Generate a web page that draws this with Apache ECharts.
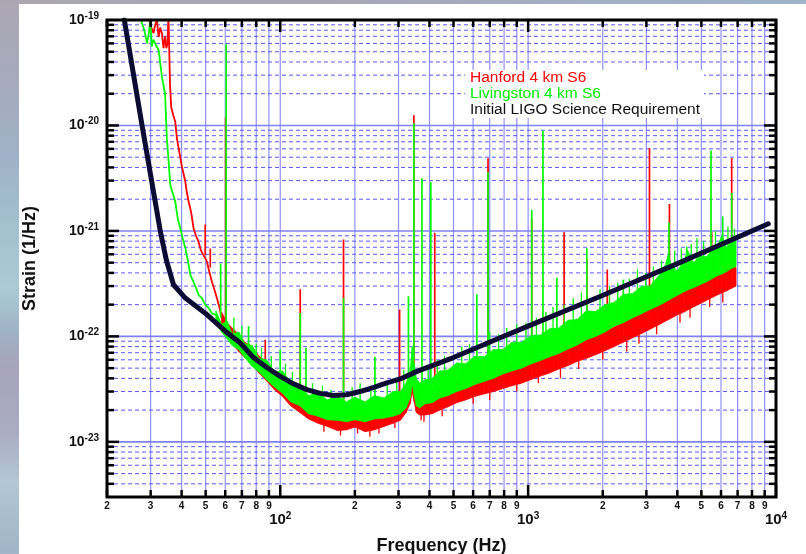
<!DOCTYPE html>
<html>
<head>
<meta charset="utf-8">
<script src="https://cdn.jsdelivr.net/npm/echarts@6.0.0/dist/echarts.min.js"></script>
<style>
html,body{margin:0;padding:0;width:806px;height:554px;overflow:hidden;}
body{background:linear-gradient(180deg,#aca7b3 0%,#a7a9bb 12%,#9fb1c6 28%,#a3c2d0 42%,#a9cbd4 52%,#9fb2c6 60%,#a7a3bb 66%,#a9acc4 78%,#b3c6d4 87%,#a8bccc 94%,#a2b4c8 100%);}
#topstrip{position:absolute;left:0;top:0;width:806px;height:4px;background:linear-gradient(90deg,#aba6b2,#a9a7b5 40%,#a3aec2 70%,#9fb5c8 100%);}
#bg{position:absolute;left:19px;top:4px;right:0;bottom:0;background:#fff;}
#chart{position:absolute;left:0;top:0;width:806px;height:554px;}
</style>
</head>
<body>
<div id="topstrip"></div>
<div id="bg"></div>
<div id="chart"></div>
<script>
// ---------- axis ticks ----------
const xMinorTicks = [20,30,40,50,60,70,80,90,200,300,400,500,600,700,800,900,2000,3000,4000,5000,6000,7000,8000,9000];
const xMinorLabels = ['2','3','4','5','6','7','8','9','2','3','4','5','6','7','8','9','2','3','4','5','6','7','8','9'];
const xMajorTicks = [100,1000,10000];
const yMajorTicks = [1e-23,1e-22,1e-21,1e-20];
const yMinorTicks = [4e-24,5e-24,6e-24,7e-24,8e-24,9e-24,
  2e-23,3e-23,4e-23,5e-23,6e-23,7e-23,8e-23,9e-23,
  2e-22,3e-22,4e-22,5e-22,6e-22,7e-22,8e-22,9e-22,
  2e-21,3e-21,4e-21,5e-21,6e-21,7e-21,8e-21,9e-21,
  2e-20,3e-20,4e-20,5e-20,6e-20,7e-20,8e-20,9e-20];

// ---------- Initial LIGO Science Requirement ----------
const srdF = [23.5,27.7,32.8,34.7,37.1,41.4,49.8,60,69,78,88,100,113,128,145,164,185,210,240,269,305,356,500,771,1000,1950,4000,9310];
const srdV = [1e-19,1e-20,1e-21,5.3e-22,3.09e-22,2.31e-22,1.66e-22,1.12e-22,8.66e-23,6.3e-23,5.1e-23,4.18e-23,3.55e-23,3.13e-23,2.88e-23,2.75e-23,2.8e-23,3.0e-23,3.3e-23,3.62e-23,3.95e-23,4.66e-23,6.3e-23,9.7e-23,1.25e-22,2.39e-22,4.9e-22,1.17e-21];

// ---------- Livingston 4 km S6 ----------
const gLowF = [27.4,28.3,29.0,29.5,29.9,30.3,30.8,31.5,32.3,33.3,34.3,34.7,34.9,35.3,36.0,36.8,37.7,38.6,39.5,40.4,41.4,42.4,43.4,44.6,45.7,46.8,48.3,49.8,51.5,53.0,55.0];
const gLowV = [1.0e-19,8.0e-20,6.0e-20,7.5e-20,1.0e-19,5.6e-20,6.5e-20,5.8e-20,5.2e-20,2.9e-20,2.0e-20,1.0e-20,7.3e-21,5.25e-21,2.73e-21,2.3e-21,1.9e-21,1.3e-21,1.06e-21,8.5e-22,6.9e-22,5.2e-22,3.84e-22,3.3e-22,2.9e-22,2.48e-22,2.3e-22,2.0e-22,1.85e-22,1.65e-22,1.6e-22];
const gF = [55,58,61,64,68,72,77,82,88,95,102,110,120,130,142,155,170,185,200,220,240,262,285,305,322,334,341,347,354,365,385,410,440,475,515,560,610,665,725,790,860,940,1030,1120,1220,1330,1450,1580,1720,1870,2040,2220,2420,2640,2880,3100,3350,3550,3680,3800,4000,4250,4400,4650,4950,5250,5550,5850,6050,6300,6600,6900];
const gU = [1.75e-22,1.3e-22,1.4e-22,1.05e-22,1.1e-22,8.5e-23,8.2e-23,6.2e-23,6.0e-23,4.6e-23,
  4.7e-23,3.7e-23,3.5e-23,2.75e-23,2.9e-23,2.5e-23,2.7e-23,2.4e-23,2.65e-23,2.4e-23,
  2.75e-23,2.6e-23,3.0e-23,3.0e-23,3.6e-23,4.6e-23,8.0e-23,5.5e-23,4.0e-23,3.6e-23,
  3.9e-23,4.0e-23,4.7e-23,4.8e-23,5.6e-23,5.5e-23,6.5e-23,6.4e-23,7.5e-23,7.5e-23,
  8.8e-23,8.8e-23,1.02e-22,1.03e-22,1.18e-22,1.2e-22,1.42e-22,1.45e-22,1.75e-22,1.72e-22,
  2.0e-22,2.1e-22,2.5e-22,2.55e-22,3.0e-22,3.0e-22,3.7e-22,4.5e-22,6.0e-22,4.5e-22,
  4.2e-22,5.2e-22,6.5e-22,5.0e-22,5.8e-22,5.7e-22,6.8e-22,7.5e-22,9.0e-22,7.0e-22,
  7.8e-22,8.2e-22];
const gL = [1.45e-22,1.1e-22,9.5e-23,8.2e-23,7.5e-23,6.3e-23,5.2e-23,4.6e-23,3.9e-23,3.3e-23,
  2.9e-23,2.4e-23,2.2e-23,1.85e-23,1.75e-23,1.62e-23,1.6e-23,1.55e-23,1.62e-23,1.55e-23,
  1.65e-23,1.68e-23,1.75e-23,1.85e-23,2.1e-23,2.6e-23,3.5e-23,2.8e-23,2.2e-23,2.1e-23,
  2.3e-23,2.35e-23,2.6e-23,2.75e-23,3.0e-23,3.2e-23,3.5e-23,3.75e-23,4.0e-23,4.4e-23,
  4.7e-23,5.0e-23,5.5e-23,5.9e-23,6.4e-23,6.9e-23,7.6e-23,8.3e-23,9.3e-23,1.0e-22,
  1.1e-22,1.25e-22,1.35e-22,1.5e-22,1.65e-22,1.8e-22,1.95e-22,2.1e-22,2.2e-22,2.3e-22,
  2.45e-22,2.65e-22,2.75e-22,2.9e-22,3.1e-22,3.3e-22,3.55e-22,3.8e-22,3.9e-22,4.1e-22,
  4.4e-22,4.6e-22];
const gSpikeF = [57.5,60.5,74.5,100,120.4,127,180,241,329,346,373,405,621,689,1034,1148,1306,1725,2421,3700,4365,5470,6095,6626];
const gSpikeBase = [1.5e-22,1.2e-22,7e-23,4e-23,3e-23,3e-23,2.5e-23,2.6e-23,3e-23,6e-23,3.6e-23,4e-23,6.5e-23,6.5e-23,1e-22,1e-22,1.2e-22,1.7e-22,2.4e-22,5e-22,5e-22,6.5e-22,7e-22,7.5e-22];
const gSpikeTop = [4.9e-22,5.9e-20,1.25e-22,7.5e-23,1.67e-22,7.8e-23,2.3e-22,6.4e-23,2.4e-22,1.05e-20,3.15e-21,2.9e-21,2.5e-22,3.6e-21,1.58e-21,8.9e-21,3.6e-22,6.9e-22,3.45e-22,1.2e-21,7.1e-22,5.8e-21,1.37e-21,2.3e-21];
// small noise hairs on the Livingston band
const gHairF = [65,70,80,84,92,105,112,135,148,160,195,210,232,270,295,315,395,430,460,540,580,700,760,820,900,980,1080,1180,1260,1400,1520,1640,1950,2130,2300,2560,2760,2980,3200,3450,3900,4150,4550,4800,5100,5700,6400,6800];
const gHairBase = [9e-23,8e-23,6e-23,5e-23,4.5e-23,3.5e-23,3e-23,2.5e-23,2.3e-23,2.2e-23,2.1e-23,2.1e-23,2.1e-23,2.2e-23,2.5e-23,2.6e-23,3e-23,3.3e-23,3.6e-23,4.2e-23,4.6e-23,5.5e-23,6e-23,6.5e-23,7e-23,7.5e-23,8.5e-23,9e-23,1e-22,1.1e-22,1.2e-22,1.3e-22,1.5e-22,1.7e-22,1.8e-22,2.0e-22,2.3e-22,2.4e-22,2.6e-22,3e-22,3.3e-22,3.5e-22,3.8e-22,4e-22,4.3e-22,5e-22,5.5e-22,6e-22];
const gHairTop = [1.5e-22,1.25e-22,8.5e-23,7.8e-23,6.5e-23,5.5e-23,4.6e-23,3.6e-23,3.4e-23,3.1e-23,3.3e-23,3.6e-23,3.2e-23,3.6e-23,4.0e-23,4.8e-23,5.2e-23,6.0e-23,6.5e-23,8e-23,8.5e-23,1.1e-22,1.05e-22,1.2e-22,1.3e-22,1.35e-22,1.5e-22,1.7e-22,1.9e-22,2.0e-22,2.3e-22,2.6e-22,2.8e-22,3.0e-22,3.2e-22,3.5e-22,4.3e-22,4.0e-22,4.6e-22,5.2e-22,6.5e-22,6.8e-22,7.5e-22,8.5e-22,8.0e-22,1.0e-21,1.1e-21,1.05e-21];

// ---------- Hanford 4 km S6 ----------
const rLowF = [29.6,30.2,30.8,31.3,31.8,32.3,32.8,33.3,33.8,34.3,34.7,35.1,35.4,35.9,36.3,37.0,37.7,38.3,38.9,39.5,40.0,40.7,41.4,42.0,42.7,43.7,44.7,45.7,46.8,47.9,49.0,50.5,51.3,53.0,54.2,55.5,56.8,58.0];
const rLowV = [1.0e-19,8.5e-20,7.5e-20,9.0e-20,1.0e-19,6.9e-20,8.5e-20,7.5e-20,5.4e-20,7.0e-20,5.4e-20,6.0e-20,1.1e-19,2.5e-20,1.5e-20,1.25e-20,1.09e-20,7.5e-21,6.1e-21,5.0e-21,4.2e-21,3.5e-21,2.94e-21,2.3e-21,1.9e-21,1.5e-21,1.06e-21,9.0e-22,7.9e-22,6.5e-22,5.9e-22,5.2e-22,4.45e-22,3.3e-22,2.8e-22,2.31e-22,1.9e-22,1.5e-22];
const rF = [58,61,64,68,72,77,82,88,95,102,110,120,130,142,155,170,185,200,220,240,262,285,305,322,334,341,347,354,365,385,410,440,475,515,560,610,665,725,790,860,940,1030,1120,1220,1330,1450,1580,1650,1720,1870,2040,2220,2420,2640,2880,3100,3350,3550,3700,3800,4000,4250,4650,4950,5250,5550,5850,6300,6600,6900];
const rU = [1.7e-22,1.35e-22,1.2e-22,1.05e-22,8.8e-23,8.0e-23,6.5e-23,5.8e-23,4.6e-23,
  4.2e-23,3.4e-23,3.0e-23,2.6e-23,2.5e-23,2.3e-23,2.35e-23,2.2e-23,2.3e-23,2.2e-23,
  2.35e-23,2.3e-23,2.55e-23,2.7e-23,3.2e-23,4.0e-23,6.5e-23,4.5e-23,3.2e-23,2.9e-23,
  3.0e-23,3.1e-23,3.4e-23,3.5e-23,3.9e-23,3.9e-23,4.3e-23,4.4e-23,4.8e-23,4.9e-23,
  5.5e-23,5.6e-23,6.2e-23,6.4e-23,7.2e-23,7.4e-23,8.3e-23,8.6e-23,1.1e-22,9.5e-23,
  1.0e-22,1.12e-22,1.22e-22,1.38e-22,1.5e-22,1.72e-22,1.8e-22,2.1e-22,2.3e-22,2.9e-22,
  2.5e-22,2.6e-22,2.95e-22,3.1e-22,3.5e-22,3.5e-22,3.9e-22,4.1e-22,4.3e-22,4.6e-22,
  4.5e-22];
const rL = [1.3e-22,1.0e-22,8.5e-23,7.2e-23,6.3e-23,5.4e-23,4.5e-23,3.8e-23,3.1e-23,
  2.7e-23,2.2e-23,1.9e-23,1.65e-23,1.5e-23,1.4e-23,1.28e-23,1.3e-23,1.38e-23,1.25e-23,
  1.3e-23,1.4e-23,1.5e-23,1.6e-23,1.9e-23,2.3e-23,3.0e-23,2.4e-23,1.9e-23,1.8e-23,
  1.8e-23,1.85e-23,2.0e-23,2.15e-23,2.35e-23,2.5e-23,2.7e-23,2.85e-23,3.0e-23,3.2e-23,
  3.4e-23,3.6e-23,3.9e-23,4.2e-23,4.5e-23,4.9e-23,5.3e-23,5.8e-23,6.0e-23,6.2e-23,
  6.7e-23,7.3e-23,8.0e-23,8.8e-23,9.7e-23,1.07e-22,1.17e-22,1.28e-22,1.38e-22,1.45e-22,
  1.5e-22,1.6e-22,1.7e-22,1.9e-22,2.05e-22,2.2e-22,2.35e-22,2.5e-22,2.7e-22,2.85e-22,
  3.0e-22];
const rSpikeF = [49.8,52.2,60.2,87,120.4,180,303,346,420,689,1034,1397,1725,2086,3087,3716,5500,6626];
const rSpikeBase = [5.9e-22,4.5e-22,1.2e-22,5e-23,3e-23,2.2e-23,2.7e-23,5e-23,3e-23,4.4e-23,6e-23,8e-23,9e-23,1.1e-22,1.8e-22,2.6e-22,3.8e-22,4.5e-22];
const rSpikeTop = [1.15e-21,6.8e-22,1.2e-20,9.3e-23,2.8e-22,8.3e-22,1.8e-22,1.25e-20,9.6e-22,4.9e-21,1.3e-21,9.7e-22,5.5e-22,4.3e-22,6.1e-21,1.8e-21,9.8e-22,4.9e-21];
// small downward noise dips on the Hanford band
const rHairF = [150,175,205,230,250,290,370,380,450,600,700,900,1100,1350,1600,2000,2500,2800,3300,4100,4500,5400,6100];
const rHairBase = [1.6e-23,1.5e-23,1.5e-23,1.5e-23,1.6e-23,1.7e-23,2e-23,2e-23,2.2e-23,2.9e-23,3.1e-23,3.7e-23,4.3e-23,5e-23,6e-23,7.3e-23,9e-23,1.05e-22,1.3e-22,1.7e-22,1.9e-22,2.3e-22,2.6e-22];
const rHairBottom = [1.25e-23,1.15e-23,1.2e-23,1.12e-23,1.2e-23,1.35e-23,1.6e-23,1.55e-23,1.75e-23,2.3e-23,2.5e-23,3.0e-23,3.6e-23,4.0e-23,4.9e-23,6.0e-23,7.2e-23,8.5e-23,1.05e-22,1.35e-22,1.5e-22,1.9e-22,2.1e-22];

// ---------- styling ----------
const FF = '"Liberation Sans", Arial, sans-serif';
// ECharts rounds log-axis values to 20 decimals, so the strain axis works in units of 1e-24.
const UNIT_EXP = 24;
const su = v => v * Math.pow(10, UNIT_EXP);
const X_MIN = 20, X_MAX = 10000, Y_MIN = su(3e-24), Y_MAX = su(1e-19);
const RED = '#ff0000', GREEN = '#00ff00', NAVY = '#0b0b33';

function zip2(a, b) { return a.map((v, i) => [v, su(b[i])]); }
function zip3(a, b, c) { return a.map((v, i) => [v, su(b[i]), su(c[i])]); }

function bandSeries(name, F, U, L, color, z) {
  const rows = zip3(F, U, L);
  return {
    type: 'custom', name: name, z: z, coordinateSystem: 'cartesian2d', clip: true, silent: true,
    encode: { x: 0, y: [1, 2] }, data: rows,
    renderItem: function (params, api) {
      const i = params.dataIndex;
      if (i >= rows.length - 1) return null;
      const a = api.coord([rows[i][0], rows[i][1]]);
      const b = api.coord([rows[i + 1][0], rows[i + 1][1]]);
      const c = api.coord([rows[i + 1][0], rows[i + 1][2]]);
      const d = api.coord([rows[i][0], rows[i][2]]);
      return { type: 'polygon', shape: { points: [a, b, c, d] }, style: { fill: color, stroke: color, lineWidth: 0.8 } };
    }
  };
}
function spikeSeries(F, B, T, color, z, w) {
  return {
    type: 'custom', z: z, coordinateSystem: 'cartesian2d', clip: true, silent: true,
    encode: { x: 0, y: [1, 2] }, data: zip3(F, B, T),
    renderItem: function (params, api) {
      const p0 = api.coord([api.value(0), api.value(1)]);
      const p1 = api.coord([api.value(0), api.value(2)]);
      return { type: 'line', shape: { x1: p0[0], y1: p0[1], x2: p1[0], y2: p1[1] }, style: { stroke: color, lineWidth: w } };
    }
  };
}
function lowLine(F, V, color, z) {
  return { type: 'line', z: z, data: zip2(F, V), showSymbol: false, symbol: 'none', silent: true,
    lineStyle: { color: color, width: 1.8 }, clip: true };
}
function vGrid(ticks, color, width) {
  return {
    type: 'custom', z: 1, silent: true, clip: false, encode: { x: 0, y: 1 },
    data: ticks.map(f => [f, Y_MIN]),
    renderItem: function (params, api) {
      const p0 = api.coord([api.value(0), Y_MIN]), p1 = api.coord([api.value(0), Y_MAX]);
      return { type: 'line', shape: { x1: p0[0], y1: p0[1], x2: p1[0], y2: p1[1] }, style: { stroke: color, lineWidth: width } };
    }
  };
}
function hGrid(ticks, color, width, dash) {
  return {
    type: 'custom', z: 1, silent: true, clip: false, encode: { x: 0, y: 1 },
    data: ticks.map(v => [X_MIN, su(v)]),
    renderItem: function (params, api) {
      const p0 = api.coord([X_MIN, api.value(1)]), p1 = api.coord([X_MAX, api.value(1)]);
      return { type: 'line', shape: { x1: p0[0], y1: p0[1], x2: p1[0], y2: p1[1] }, style: { stroke: color, lineWidth: width, lineDash: dash || null } };
    }
  };
}
function xTicks(ticks, len, labels) {
  return {
    type: 'custom', z: 8, silent: true, clip: false, encode: { x: 0, y: 1 },
    data: ticks.map(f => [f, Y_MIN]),
    renderItem: function (params, api) {
      const f = api.value(0);
      const pb = api.coord([f, Y_MIN]), pt = api.coord([f, Y_MAX]);
      const ch = [
        { type: 'line', shape: { x1: pb[0], y1: pb[1], x2: pb[0], y2: pb[1] - len }, style: { stroke: '#000', lineWidth: 2.5 } },
        { type: 'line', shape: { x1: pt[0], y1: pt[1], x2: pt[0], y2: pt[1] + len }, style: { stroke: '#000', lineWidth: 2.5 } }
      ];
      if (labels) {
        ch.push({ type: 'text', x: pb[0], y: pb[1] + 9, style: { text: labels[params.dataIndex], font: 'bold 10px ' + FF, fill: '#111', align: 'center', verticalAlign: 'middle', textAlign: 'center', textVerticalAlign: 'middle' } });
      }
      return { type: 'group', children: ch };
    }
  };
}
function yTicks(ticks, len) {
  return {
    type: 'custom', z: 8, silent: true, clip: false, encode: { x: 0, y: 1 },
    data: ticks.map(v => [X_MIN, su(v)]),
    renderItem: function (params, api) {
      const v = api.value(1);
      const pl = api.coord([X_MIN, v]), pr = api.coord([X_MAX, v]);
      return { type: 'group', children: [
        { type: 'line', shape: { x1: pl[0], y1: pl[1], x2: pl[0] + len, y2: pl[1] }, style: { stroke: '#000', lineWidth: 2.5 } },
        { type: 'line', shape: { x1: pr[0], y1: pr[1], x2: pr[0] - len, y2: pr[1] }, style: { stroke: '#000', lineWidth: 2.5 } }
      ] };
    }
  };
}
function powLabelFn(offset) {
  return function (v) {
    const l = Math.log10(v), e = Math.round(l);
    if (Math.abs(l - e) > 0.01) return '';
    return '{b|10}{s|' + (e - offset) + '}';
  };
}
const richPow = {
  b: { fontFamily: FF, fontWeight: 'bold', fontSize: 14, color: '#111', lineHeight: 18 },
  s: { fontFamily: FF, fontWeight: 'bold', fontSize: 10, color: '#111', lineHeight: 10, verticalAlign: 'top' }
};
const richPowX = {
  b: { fontFamily: FF, fontWeight: 'bold', fontSize: 15, color: '#111', lineHeight: 18 },
  s: { fontFamily: FF, fontWeight: 'bold', fontSize: 10, color: '#111', lineHeight: 10, verticalAlign: 'top' }
};

const chart = echarts.init(document.getElementById('chart'), null, { renderer: 'canvas' });
chart.setOption({
  animation: false,
  backgroundColor: 'transparent',
  grid: { left: 107, right: 30, top: 20, bottom: 57, show: true, borderColor: '#000', borderWidth: 3, backgroundColor: 'transparent', z: 9,
    containLabel: false, outerBoundsMode: 'none' },
  legend: {
    show: true, orient: 'vertical', left: 465, top: 70, itemGap: 0, itemWidth: 0, itemHeight: 0, icon: 'rect',
    selectedMode: false, backgroundColor: '#fff', padding: [0, 4, 0, 0], z: 10,
    textStyle: { fontFamily: FF, fontSize: 15.5, lineHeight: 16 },
    data: [
      { name: 'Hanford 4 km S6', textStyle: { color: RED } },
      { name: 'Livingston 4 km S6', textStyle: { color: '#00ee00' } },
      { name: 'Initial LIGO Science Requirement', textStyle: { color: '#111' } }
    ]
  },
  xAxis: {
    type: 'log', logBase: 10, min: X_MIN, max: X_MAX,
    name: 'Frequency (Hz)', nameLocation: 'middle', nameGap: 40,
    nameTextStyle: { fontFamily: FF, fontWeight: 'bold', fontSize: 18, color: '#111' },
    axisLine: { show: false }, axisTick: { show: false }, splitLine: { show: false }, minorTick: { show: false },
    axisLabel: { margin: 14, formatter: powLabelFn(0), rich: richPowX, showMinLabel: true, showMaxLabel: true }
  },
  yAxis: {
    type: 'log', logBase: 10, min: Y_MIN, max: Y_MAX,
    name: 'Strain (1/Hz)', nameLocation: 'middle', nameGap: 68, nameRotate: 90,
    nameTextStyle: { fontFamily: FF, fontWeight: 'bold', fontSize: 18, color: '#111' },
    axisLine: { show: false }, axisTick: { show: false }, splitLine: { show: false }, minorTick: { show: false },
    axisLabel: { margin: 8, formatter: powLabelFn(UNIT_EXP), rich: richPow, showMinLabel: true, showMaxLabel: true }
  },
  series: [
    vGrid(xMinorTicks.concat(xMajorTicks), '#9090ff', 1.2),
    hGrid(yMinorTicks, '#5858ff', 1, [4, 3]),
    hGrid(yMajorTicks, '#7f7fff', 1.6),
    lowLine(rLowF, rLowV, RED, 2),
    bandSeries('Hanford 4 km S6', rF, rU, rL, RED, 2),
    spikeSeries(rHairF, rHairBase, rHairBottom, RED, 2, 1.3),
    spikeSeries(rSpikeF, rSpikeBase, rSpikeTop, RED, 3, 1.7),
    lowLine(gLowF, gLowV, GREEN, 4),
    bandSeries('Livingston 4 km S6', gF, gU, gL, GREEN, 4),
    spikeSeries(gHairF, gHairBase, gHairTop, GREEN, 4, 1.3),
    spikeSeries(gSpikeF, gSpikeBase, gSpikeTop, GREEN, 5, 1.7),
    { type: 'line', name: 'Initial LIGO Science Requirement', z: 6, data: zip2(srdF, srdV), symbol: 'none', showSymbol: false, smooth: false, silent: true,
      lineStyle: { color: NAVY, width: 5, cap: 'round', join: 'round' }, itemStyle: { color: NAVY }, clip: true },
    xTicks(xMinorTicks, 7, xMinorLabels),
    xTicks(xMajorTicks, 12, null),
    yTicks(yMinorTicks, 7),
    yTicks(yMajorTicks, 12)
  ]
});
</script>
</body>
</html>
